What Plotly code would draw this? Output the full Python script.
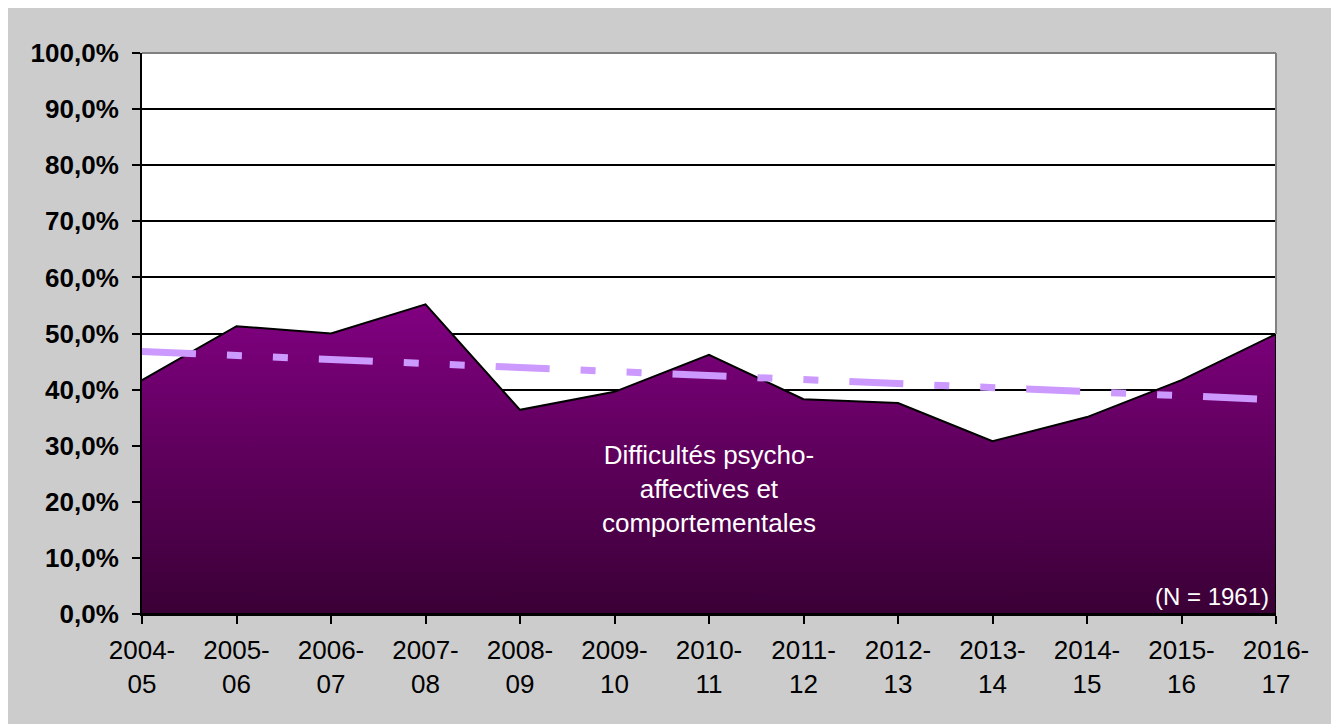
import plotly.graph_objects as go

# school years on the x axis
years = ["2004-<br>05", "2005-<br>06", "2006-<br>07", "2007-<br>08", "2008-<br>09",
         "2009-<br>10", "2010-<br>11", "2011-<br>12", "2012-<br>13", "2013-<br>14",
         "2014-<br>15", "2015-<br>16", "2016-<br>17"]

# share of pupils (%)
share = [41.7, 51.3, 50.0, 55.2, 36.4, 39.6, 46.2, 38.3, 37.6, 30.8, 35.1, 41.7, 49.9]

# linear trend (Excel trendline), start and end values
trend_ends = [46.8, 38.2]

y_ticks = [0, 10, 20, 30, 40, 50, 60, 70, 80, 90, 100]
y_tick_labels = ["0,0%", "10,0%", "20,0%", "30,0%", "40,0%", "50,0%",
                 "60,0%", "70,0%", "80,0%", "90,0%", "100,0%"]

series_label = "Difficultés psycho-<br>affectives et<br>comportementales"
n_label = "(N = 1961)"

FONT = "Liberation Sans, Arial, sans-serif"

# page body has an 8px margin, so the figure sits at (8, 8)
W, H = 1339, 724
L, T = 134, 45
pw, ph = 1134, 561
R, B = W - L - pw, H - T - ph

fig = go.Figure()

# area, closed down to 0 so the outline goes round the whole shape
fig.add_trace(go.Scatter(
    x=years + [years[-1], years[0]],
    y=share + [0, 0],
    mode="lines",
    fill="toself",
    fillgradient=dict(type="vertical",
                      colorscale=[[0, "#3a0035"], [1, "#810081"]],
                      start=0, stop=max(share)),
    line=dict(color="black", width=2),
    hoverinfo="skip",
    showlegend=False,
))

fig.add_trace(go.Scatter(
    x=[years[0], years[-1]],
    y=trend_ends,
    mode="lines",
    line=dict(color="#cc99ff", width=7, dash="54px,31px,15px,31px,15px,31px"),
    showlegend=False,
))

fig.add_annotation(
    x=0.5, xref="paper", y=22.3, yref="y",
    text=series_label, showarrow=False,
    font=dict(family=FONT, size=26, color="white"),
    align="center",
)
fig.add_annotation(
    x=1129 / pw, xref="paper", xanchor="right",
    y=3.2, yref="y",
    text=n_label, showarrow=False,
    font=dict(family=FONT, size=24, color="white"),
)

# grey top and right borders of the plot area
fig.add_shape(type="line", xref="paper", yref="paper", x0=0, x1=1, y0=1, y1=1,
              line=dict(color="#808080", width=2), layer="above")
fig.add_shape(type="line", xref="paper", yref="y", x0=1, x1=1,
              y0=share[-1], y1=100,
              line=dict(color="#808080", width=2), layer="above")

fig.update_xaxes(
    type="category",
    range=[0, len(years) - 1],
    showline=True, linecolor="black", linewidth=2,
    ticks="outside", ticklen=8, tickwidth=2, tickcolor="black",
    tickfont=dict(family=FONT, size=26, color="black"),
    ticklabelstandoff=4,
    showgrid=False,
)
fig.update_yaxes(
    range=[0, 100],
    tickvals=y_ticks, ticktext=y_tick_labels,
    showline=True, linecolor="black", linewidth=2,
    ticks="outside", ticklen=8, tickwidth=2, tickcolor="black",
    tickfont=dict(family=FONT, size=26, color="black", weight="bold"),
    ticklabelstandoff=8,
    showgrid=True, gridcolor="black", gridwidth=2,
    zeroline=False,
)

fig.update_layout(
    width=W, height=H,
    margin=dict(l=L, r=R, t=T, b=B),
    paper_bgcolor="#cccccc",
    plot_bgcolor="white",
    font=dict(family=FONT),
)

fig.write_html("out.html")
